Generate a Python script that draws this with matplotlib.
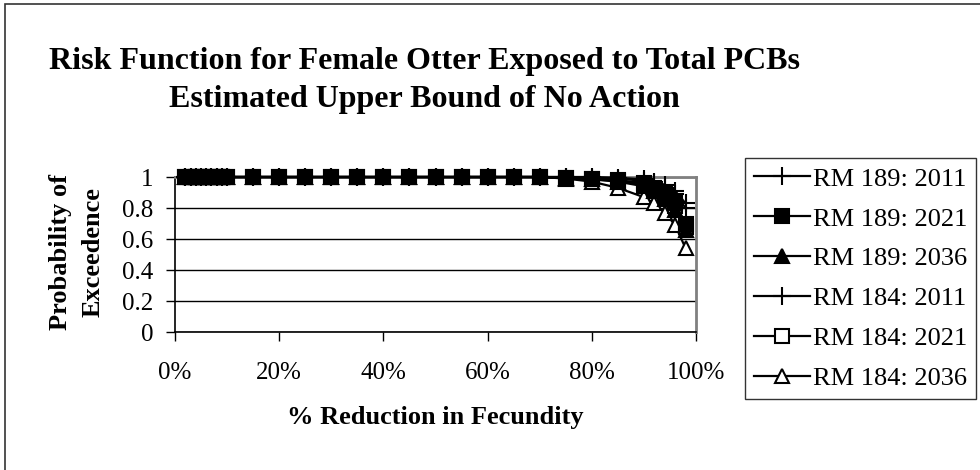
import matplotlib.pyplot as plt
import matplotlib.patches as patches
from matplotlib.ticker import FuncFormatter
import numpy as np

plt.rcParams['font.family'] = ['Liberation Serif', 'DejaVu Serif']

# % reduction in fecundity (x) and probability of exceedence per series
reduction = [2, 3, 4, 5, 6, 7, 8, 9, 10, 15, 20, 25, 30, 35, 40, 45, 50, 55, 60, 65, 70,
             75, 80, 85, 90, 92, 94, 96, 98]
flat = [1.0] * 21
rm189_2011 = flat + [1.0, 1.0, 0.995, 0.985, 0.97, 0.95, 0.91, 0.83]
rm189_2021 = flat + [0.995, 0.99, 0.98, 0.96, 0.93, 0.89, 0.83, 0.70]
rm189_2036 = flat + [0.995, 0.985, 0.97, 0.94, 0.91, 0.86, 0.79, 0.66]
rm184_2011 = flat + [1.0, 0.995, 0.99, 0.975, 0.96, 0.93, 0.89, 0.80]
rm184_2021 = flat + [0.995, 0.985, 0.975, 0.95, 0.92, 0.88, 0.81, 0.68]
rm184_2036 = flat + [0.99, 0.97, 0.93, 0.87, 0.83, 0.77, 0.69, 0.54]

labels = ["RM 189: 2011", "RM 189: 2021", "RM 189: 2036",
          "RM 184: 2011", "RM 184: 2021", "RM 184: 2036"]
series = [rm189_2011, rm189_2021, rm189_2036, rm184_2011, rm184_2021, rm184_2036]
markers = ["+", "s", "^", "+", "s", "^"]
faces = ["black", "black", "black", "black", "white", "white"]
sizes = [13, 10, 10, 13, 10, 10]
zorders = [8, 9, 8.5, 7, 6, 5]  # filled squares end up on top

fig = plt.figure(figsize=(9.8, 4.7), dpi=100)
ax = fig.add_axes([0.1786, 0.2936, 0.5316, 0.3298])

x = np.array(reduction) / 100.0
handles = []
for vals, lab, m, fc, ms, z in zip(series, labels, markers, faces, sizes, zorders):
    h, = ax.plot(x, vals, color="black", lw=1.6, marker=m, markersize=ms,
                 markerfacecolor=fc, markeredgecolor="black", markeredgewidth=1.5,
                 label=lab, zorder=z, clip_on=False)
    handles.append(h)

ax.set_xlim(0, 1)
ax.set_ylim(0, 1)
ax.set_xticks(np.arange(0, 1.01, 0.2))
ax.set_yticks(np.arange(0, 1.01, 0.2))
ax.xaxis.set_major_formatter(FuncFormatter(lambda v, p: "{:d}%".format(int(round(v * 100)))))
ax.yaxis.set_major_formatter(FuncFormatter(lambda v, p: "{:g}".format(round(v, 1))))
ax.tick_params(axis="both", direction="out", length=6.5, width=1, labelsize=18, color="black")
ax.tick_params(axis="x", pad=15)
ax.tick_params(axis="y", pad=9)

ax.grid(axis="y", color="black", lw=1)
ax.set_axisbelow(True)
ax.spines["left"].set_color("black")
ax.spines["bottom"].set_color("black")
ax.spines["left"].set_linewidth(1.2)
ax.spines["bottom"].set_linewidth(1.2)
ax.spines["top"].set_color("#808080")
ax.spines["right"].set_color("#808080")
ax.spines["top"].set_linewidth(2)
ax.spines["right"].set_linewidth(2)

ax.set_xlabel("% Reduction in Fecundity", size=19, weight="bold", labelpad=16)
fig.text(0.0785, 0.464, "Probability of\nExceedence", rotation=90, ha="center", va="center",
         size=19, weight="bold", linespacing=1.5)

fig.text(0.433, 1 - 62 / 470, "Risk Function for Female Otter Exposed to Total PCBs",
         ha="center", va="center", size=23, weight="bold")
fig.text(0.433, 1 - 100 / 470, "Estimated Upper Bound of No Action",
         ha="center", va="center", size=23, weight="bold")

leg = fig.legend(handles=handles, loc="upper left", bbox_to_anchor=(745 / 980, 1 - 158 / 470),
                 frameon=True, fancybox=False, edgecolor="black", fontsize=19,
                 handlelength=2.1, handletextpad=0.12, labelspacing=0.62,
                 borderpad=0.35, borderaxespad=0)
leg.get_frame().set_linewidth(1)

# outer chart border
fig.add_artist(patches.Rectangle((5 / 980, -0.05), 1.2, 1 - 4 / 470 + 0.05,
                                 transform=fig.transFigure, fill=False,
                                 edgecolor="#333333", lw=1.2))

fig.savefig("out.png", dpi=100)
plt.close(fig)
